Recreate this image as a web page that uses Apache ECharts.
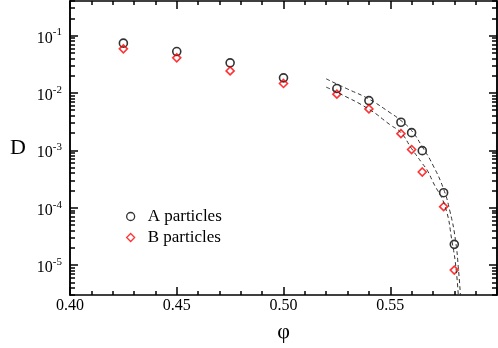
<!DOCTYPE html>
<html>
<head>
<meta charset="utf-8">
<script src="https://cdn.jsdelivr.net/npm/echarts@6/dist/echarts.min.js"></script>
<style>
html, body { margin: 0; padding: 0; background: #fff; }
#chart { width: 498px; height: 348px; }
</style>
</head>
<body>
<div id="chart"></div>
<script>
// packing fraction of each run
var phi = [0.425, 0.45, 0.475, 0.50, 0.525, 0.54, 0.555, 0.56, 0.565, 0.575, 0.58];
// diffusion constants, A and B particles
var dA = [0.0736, 0.0526, 0.0334, 0.0183, 0.0119, 0.00734, 0.00308, 0.00203, 0.000984, 1.82e-4, 2.29e-5];
var dB = [0.0586, 0.0408, 0.0242, 0.0146, 0.0095, 0.00526, 0.00195, 0.00103, 0.000418, 1.04e-4, 8.15e-6];

// dashed fit curves
var fitAPhi = [0.52, 0.5255, 0.53, 0.54, 0.55, 0.555, 0.56, 0.565, 0.57, 0.575, 0.578, 0.5805, 0.582, 0.583];
var fitAD = [0.0176, 0.0140, 0.0117, 0.0078, 0.0045, 0.0033, 0.0022, 0.00115, 5.5e-4, 2.1e-4, 8.5e-5, 2.8e-5, 8e-6, 2.5e-6];
var fitBPhi = [0.52, 0.5255, 0.54, 0.55, 0.555, 0.56, 0.565, 0.5673, 0.57, 0.5756, 0.579, 0.5809, 0.582];
var fitBD = [0.0126, 0.0101, 0.0052, 0.00277, 0.00203, 0.00107, 5.9e-4, 4.5e-4, 2.8e-4, 1.07e-4, 2.5e-5, 8.1e-6, 2.4e-6];

// tick values
var yMajor = [1e-5, 1e-4, 1e-3, 1e-2, 1e-1];
var yMinor = [];
for (var e = -6; e <= -1; e++) {
	for (var m = 2; m <= 9; m++) {
		yMinor.push(+(m * Math.pow(10, e)).toPrecision(3));
	}
}

var font = 'Liberation Serif';

function pairs(xs, ys) {
	var out = [];
	for (var i = 0; i < xs.length; i++) out.push([xs[i], ys[i]]);
	return out;
}

function xAxisOf(pos, labels) {
	return {
		type: 'value', position: pos, min: 0.40, max: 0.60, interval: 0.05,
		axisLine: { show: true, onZero: false, lineStyle: { color: '#000', width: 1.5 } },
		axisTick: { show: true, inside: true, length: 8, lineStyle: { color: '#000', width: 1.5 } },
		minorTick: { show: true, splitNumber: 5, length: 4, lineStyle: { color: '#000', width: 1.5 } },
		splitLine: { show: false },
		axisLabel: labels ? {
			show: true, showMaxLabel: false, margin: 3, color: '#000', fontFamily: font, fontSize: 16,
			formatter: function (v) { return v.toFixed(2); }
		} : { show: false }
	};
}

function yAxisOf(pos, values, len, labels) {
	return {
		type: 'log', logBase: 10, position: pos, min: 3e-6, max: 0.4,
		axisLine: { show: true, onZero: false, lineStyle: { color: '#000', width: 1.5 } },
		axisTick: { show: true, inside: true, length: len, customValues: values, lineStyle: { color: '#000', width: 1.5 } },
		splitLine: { show: false },
		axisLabel: labels ? {
			show: true, customValues: values, margin: 8, color: '#000',
			formatter: function (v) {
				var ex = v > 0 ? Math.round(Math.log10(v)) : Math.round(v);
				return '{b|10}{s|' + ex + '}';
			},
			rich: {
				b: { fontFamily: font, fontSize: 16, color: '#000', padding: [6, 0, 0, 0] },
				s: { fontFamily: font, fontSize: 11, color: '#000', padding: [0, 0, 6, 0] }
			}
		} : { show: false }
	};
}

var chart = echarts.init(document.getElementById('chart'));

var xa = xAxisOf('bottom', true);
xa.name = 'φ';
xa.nameLocation = 'middle';
xa.nameGap = 26;
xa.nameTextStyle = { fontFamily: font, fontSize: 22, color: '#000' };

var ya = yAxisOf('left', yMajor, 8, true);
ya.name = 'D';
ya.nameLocation = 'middle';
ya.nameGap = 44;
ya.nameRotate = 0;
ya.nameTextStyle = { fontFamily: font, fontSize: 22, color: '#000' };

var option = {
	animation: false,
	backgroundColor: '#fff',
	grid: { left: 70, right: 1, top: 1, bottom: 53 },
	xAxis: [xa, xAxisOf('top', false)],
	yAxis: [
		ya,
		yAxisOf('left', yMinor, 5, false),
		yAxisOf('right', yMajor, 8, false),
		yAxisOf('right', yMinor, 5, false)
	],
	legend: {
		orient: 'vertical', left: 126, top: 208, padding: 0, itemWidth: 8, itemHeight: 8, itemGap: 4,
		data: [
			{ name: 'A particles', icon: 'circle', itemStyle: { color: 'rgba(0,0,0,0)', borderColor: '#000', borderWidth: 1.3 } },
			{ name: 'B particles', icon: 'diamond', itemStyle: { color: 'rgba(0,0,0,0)', borderColor: '#ff0000', borderWidth: 1.3 } }
		],
		textStyle: { fontFamily: font, fontSize: 17, color: '#000', padding: [0, 0, 0, 8] }
	},
	series: [
		{
			type: 'line', name: 'fitA', data: pairs(fitAPhi, fitAD), smooth: true, showSymbol: false, clip: true,
			lineStyle: { color: '#333', width: 1, type: [4, 3] }
		},
		{
			type: 'line', name: 'fitB', data: pairs(fitBPhi, fitBD), smooth: true, showSymbol: false, clip: true,
			lineStyle: { color: '#333', width: 1, type: [4, 3] }
		},
		{
			type: 'scatter', name: 'A particles', data: pairs(phi, dA), symbol: 'circle', symbolSize: 8,
			itemStyle: { color: 'rgba(0,0,0,0)', borderColor: '#000', borderWidth: 1.6 }
		},
		{
			type: 'scatter', name: 'B particles', data: pairs(phi, dB), symbol: 'diamond', symbolSize: 8,
			itemStyle: { color: 'rgba(0,0,0,0)', borderColor: '#ff0000', borderWidth: 1.6 }
		}
	]
};

chart.setOption(option);
</script>
</body>
</html>
